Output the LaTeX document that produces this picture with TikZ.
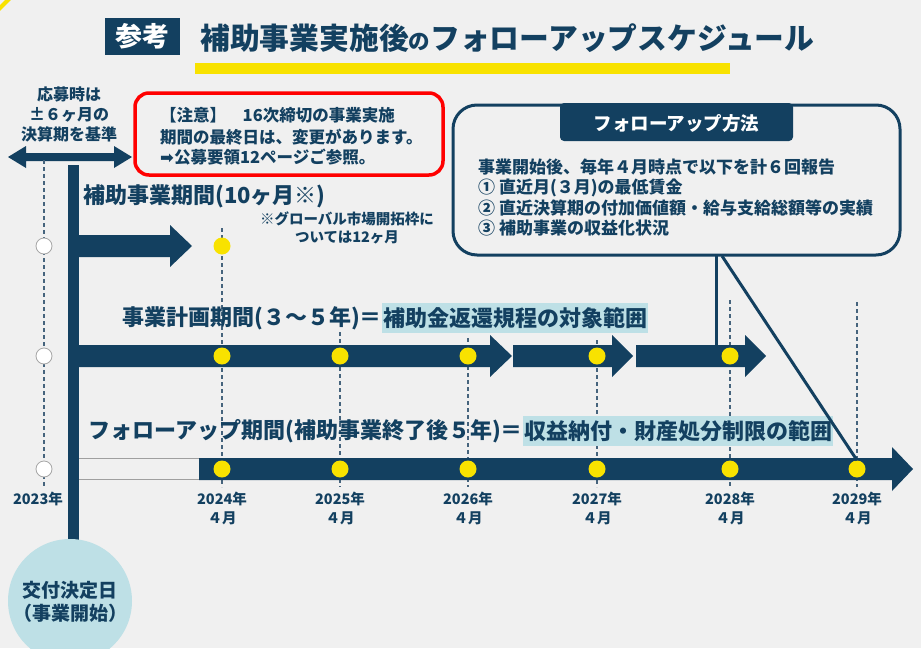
\documentclass[tikz,border=0pt]{standalone}
\usepackage{fontspec}
\setmainfont{Noto Sans CJK JP}
\newfontfamily\dejavu{DejaVu Sans}
\definecolor{navy}{RGB}{19,64,96}
\definecolor{bg}{RGB}{240,240,240}
\definecolor{ylw}{RGB}{248,226,0}
\definecolor{hl}{RGB}{190,224,230}
\definecolor{dashc}{RGB}{70,100,125}
\tikzset{
  txt/.style={inner sep=0pt, text=navy, font=\bfseries},
  fs/.style={font=\fontsize{#1}{#1}\selectfont\bfseries},
  hlbox/.style={fill=hl, inner xsep=1pt, inner ysep=4pt, text=navy},
  dashln/.style={draw=dashc, line width=1.3pt, dash pattern=on 4pt off 3pt},
  wcirc/.style={circle, fill=white, draw=gray!70, line width=0.8pt, minimum size=16pt, inner sep=0pt},
  ydot/.style={circle, fill=ylw, minimum size=17pt, inner sep=0pt},
  navyarrow/.style={fill=navy},
  yearlbl/.style={txt, align=center, font=\fontsize{14.5}{19}\selectfont\bfseries}
}
\begin{document}
\begin{tikzpicture}[x=1pt,y=-1pt]
\useasboundingbox (0,0) rectangle (921,648);
\fill[bg] (0,0) rectangle (921,648);
% corner stroke
\draw[ylw, line width=4pt] (-2,10) -- (10,-2);

% title
\node[fill=navy, minimum width=75pt, minimum height=37pt, inner sep=0pt, text=white, font=\fontsize{27}{27}\selectfont\bfseries] (sanko) at (142.5,36.5) {参考};
\node[txt, anchor=west] (title) at (200,38) {{\fontsize{29.8}{29.8}\selectfont\bfseries 補助事業実施後}{\fontsize{21.5}{21.5}\selectfont\bfseries の}{\fontsize{29.8}{29.8}\selectfont\bfseries フォローアップスケジュール}};
\fill[ylw] (195,63) rectangle (730,74);

% left note
\node[txt, fs=16, align=center] (oubo) at (69,114) {応募時は\\[4pt]±６ヶ月の\\[4pt]決算期を基準};
\fill[navy] (8,157) -- (26,146) -- (26,153) -- (114,153) -- (114,146) -- (132,157) -- (114,168) -- (114,161) -- (26,161) -- (26,168) -- cycle;

% red note
\draw[red, line width=3.5pt, rounded corners=14pt] (135,93) rectangle (443,175);
\node[txt, fs=16.5, anchor=west] (n1) at (160,115) {【注意】　16次締切の事業実施};
\node[txt, fs=16.5, anchor=west] (n2) at (160,137) {期間の最終日は、変更があります。};
\node[txt, fs=16.5, anchor=west] (n3) at (160,157) {{\dejavu ➡}公募要領12ページご参照。};

% follow-up method box
\draw[navy, line width=3pt, rounded corners=24pt] (453,105) rectangle (900,255);
\fill[navy, rounded corners=4pt] (560,103) -- (560,141) -- (793,141) -- (793,103) -- cycle;
\node[inner sep=0pt, text=white, fs=18.5] (ftab) at (676.5,123) {フォローアップ方法};
\node[txt, fs=17, anchor=west] (f1) at (478,167) {事業開始後、毎年４月時点で以下を計６回報告};
\node[txt, fs=17, anchor=west] (f2) at (478,187.5) {① 直近月(３月)の最低賃金};
\node[txt, fs=17, anchor=west] (f3) at (478,208) {② 直近決算期の付加価値額・給与支給総額等の実績};
\node[txt, fs=17, anchor=west] (f4) at (478,228.5) {③ 補助事業の収益化状況};

% dashed guide lines
\draw[dashln] (44,160) -- (44,487);
\draw[dashln] (222,228) -- (222,487);
\draw[dashln] (340,332) -- (340,487);
\draw[dashln] (468,338) -- (468,487);
\draw[dashln] (597,340) -- (597,487);
\draw[dashln] (730,300) -- (730,487);
\draw[dashln] (857,302) -- (857,487);

% row 1
\node[txt, fs=22, anchor=west] (r1) at (83,196) {補助事業期間(10ヶ月※)};
\node[txt, fs=14.5, align=center] (r1n) at (347,228) {※グローバル市場開拓枠に\\[3pt]ついては12ヶ月};
\fill[navyarrow] (79,235) -- (170,235) -- (170,225) -- (192,246) -- (170,267) -- (170,257) -- (79,257) -- cycle;

% row 2
\node[txt, fs=22, anchor=west] (r2) at (122,318) {事業計画期間(３～５年)＝};
\node[hlbox, fs=22, anchor=west] (r2h) at (r2.east) {補助金返還規程の対象範囲};
\fill[navyarrow] (79,345) -- (490,345) -- (490,335) -- (512,356) -- (490,377) -- (490,367) -- (79,367) -- cycle;
\fill[navyarrow] (513,345) -- (612,345) -- (612,335) -- (633,356) -- (612,377) -- (612,367) -- (513,367) -- cycle;
\fill[navyarrow] (636,345) -- (745,345) -- (745,335) -- (766,356) -- (745,377) -- (745,367) -- (636,367) -- cycle;

% row 3
\node[txt, fs=22, anchor=west] (r3) at (88,431) {フォローアップ期間(補助事業終了後５年)＝};
\node[hlbox, fs=22, anchor=west] (r3h) at (r3.east) {収益納付・財産処分制限の範囲};
\draw[gray!75, line width=1pt] (79,458.5) -- (199,458.5) (79,479.5) -- (199,479.5);
\fill[navyarrow] (199,458) -- (892,458) -- (892,447) -- (913,469) -- (892,491) -- (892,480) -- (199,480) -- cycle;

% main vertical bar and start circle
\fill[navy] (68,165) rectangle (79,545);
\node[circle, fill=hl, minimum size=124pt, inner sep=0pt] (start) at (70,601) {};
\node[txt, fs=19, align=center] (startt) at (70,602) {交付決定日\\[4pt]（事業開始）};

% white circles
\node[wcirc] (w1) at (44,246) {};
\node[wcirc] (w2) at (44,356) {};
\node[wcirc] (w3) at (44,469) {};

% yellow dots
\node[ydot] (d10) at (222,246) {};
\node[ydot] (d21) at (222,356) {};
\node[ydot] (d22) at (340,356) {};
\node[ydot] (d23) at (468,356) {};
\node[ydot] (d24) at (597,356) {};
\node[ydot] (d25) at (730,356) {};
\node[ydot] (d31) at (222,469) {};
\node[ydot] (d32) at (340,469) {};
\node[ydot] (d33) at (468,469) {};
\node[ydot] (d34) at (597,469) {};
\node[ydot] (d35) at (730,469) {};
\node[ydot] (d36) at (857,469) {};

% callout lines
\coordinate (cA) at (716.5,256);
\coordinate (cB) at (716.5,346);
\coordinate (cC) at (722,256);
\draw[navy, line width=3pt] (cA) -- (cB);
\draw[navy, line width=3pt] (cC) -- (d36.north);

% year labels
\node[yearlbl] (y23) at (38,499) {2023年};
\node[yearlbl] (y24) at (222,508) {2024年\\４月};
\node[yearlbl] (y25) at (340,508) {2025年\\４月};
\node[yearlbl] (y26) at (468,508) {2026年\\４月};
\node[yearlbl] (y27) at (597,508) {2027年\\４月};
\node[yearlbl] (y28) at (730,508) {2028年\\４月};
\node[yearlbl] (y29) at (857,508) {2029年\\４月};
\end{tikzpicture}
\end{document}
